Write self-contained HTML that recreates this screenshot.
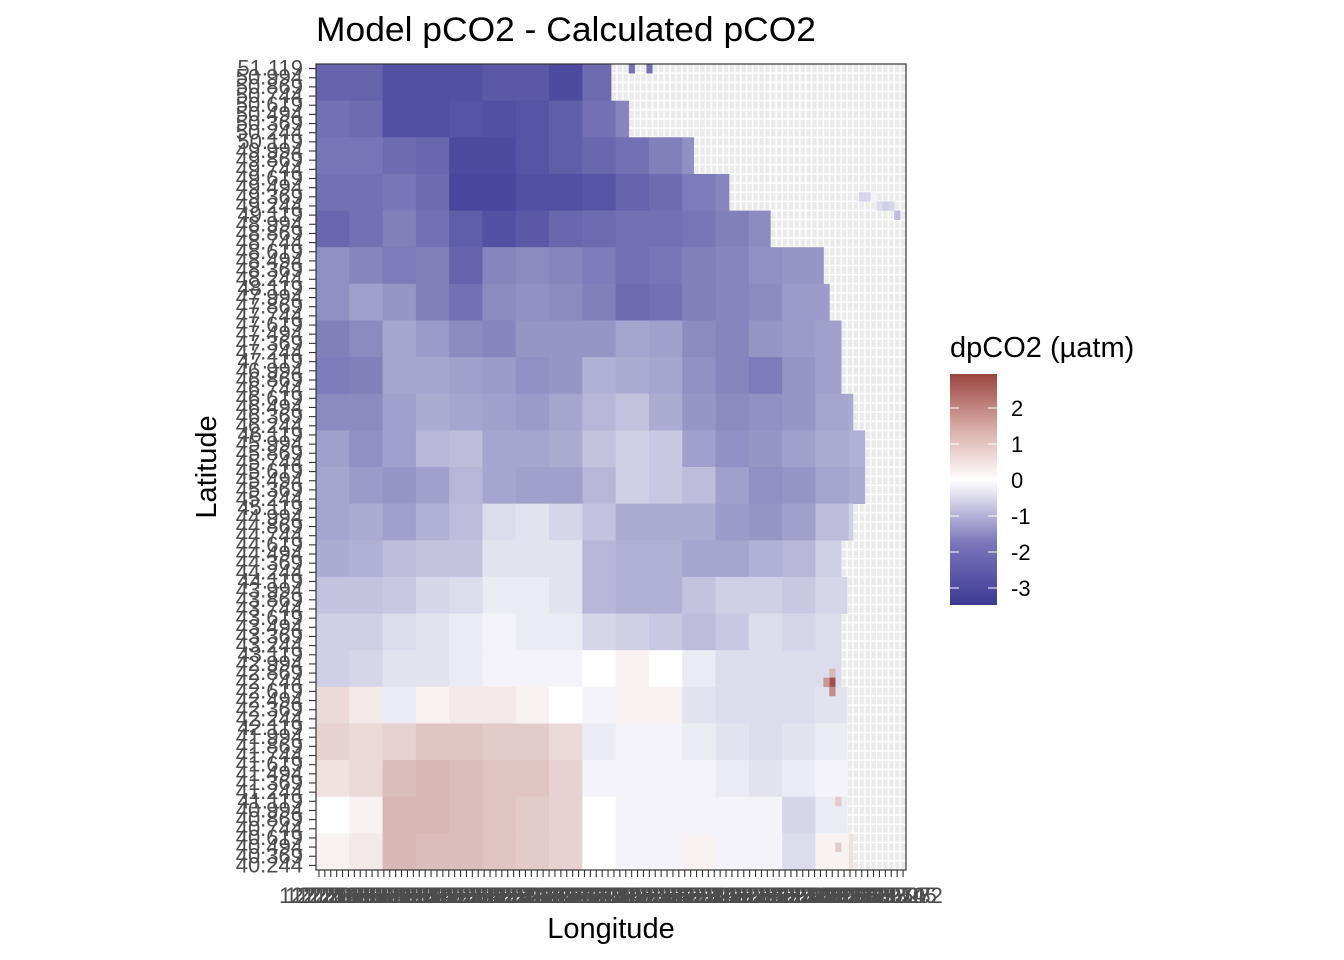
<!DOCTYPE html>
<html><head><meta charset="utf-8"><style>
html,body{margin:0;padding:0;background:#fff;}
svg{display:block;font-family:"Liberation Sans",Arial,sans-serif;}
</style></head><body>
<svg id="chart" width="1344" height="960" viewBox="0 0 1344 960">
<defs>
<pattern id="gridpat" x="316" y="64" width="5.9" height="9.159" patternUnits="userSpaceOnUse">
<rect x="0" y="0" width="5.9" height="9.159" fill="#ffffff"/>
<rect x="0.7" y="0.75" width="4.5" height="7.66" fill="#ebebeb"/>
</pattern>
<linearGradient id="legendgrad" x1="0" y1="1" x2="0" y2="0">
<stop offset="0" stop-color="#3c3a96"/>
<stop offset="0.27" stop-color="#7d76ba"/>
<stop offset="0.54" stop-color="#ffffff"/>
<stop offset="0.77" stop-color="#d7aaa5"/>
<stop offset="1" stop-color="#9a4540"/>
</linearGradient>
</defs>
<text x="316" y="41" font-size="34" textLength="500" lengthAdjust="spacingAndGlyphs" fill="#000">Model pCO2 - Calculated pCO2</text>
<rect x="316" y="64" width="590" height="806" fill="url(#gridpat)"/>
<g id="cells"></g>
<rect x="316" y="64" width="590" height="806" fill="none" stroke="#333" stroke-width="1.2"/>
<g id="yaxis"></g>
<g id="xaxis"></g>
<text x="0" y="0" transform="translate(216,467) rotate(-90)" text-anchor="middle" font-size="29" fill="#000">Latitude</text>
<text x="611" y="938" text-anchor="middle" font-size="29" fill="#000">Longitude</text>
<g>
<text x="950" y="357" font-size="29" fill="#000">dpCO2 (µatm)</text>
<rect x="950" y="374" width="47" height="231" fill="url(#legendgrad)"/>
<g id="legendticks"></g>
</g>
</svg>
<script>
// coarse grid values (dpCO2), 22 rows x 18 coarse columns
const dpRows = [
[-2.6,-2.6,-3.0,-3.0,-3.0,-2.8,-2.8,-3.1,-2.4,-2.3,-2.3,-2.3,-2.3,-2.3,-2.3,-2.3,-2.3,-2.3],
[-2.3,-2.4,-3.0,-3.0,-2.9,-3.0,-2.9,-2.7,-2.3,-1.9,-1.9,-1.9,-1.9,-1.9,-1.9,-1.9,-1.9,-1.9],
[-2.2,-2.2,-2.4,-2.5,-3.1,-3.1,-2.9,-2.7,-2.5,-2.3,-2.0,-1.7,-1.7,-1.7,-1.7,-1.7,-1.7,-1.7],
[-2.3,-2.3,-2.2,-2.4,-3.2,-3.2,-3.0,-3.0,-2.9,-2.6,-2.4,-2.1,-1.9,-1.9,-1.9,-1.9,-1.9,-1.9],
[-2.5,-2.3,-2.0,-2.3,-2.7,-3.0,-2.8,-2.5,-2.4,-2.3,-2.3,-2.2,-2.0,-1.8,-1.8,-1.8,-1.8,-1.8],
[-1.7,-1.9,-2.1,-2.0,-2.6,-1.9,-1.8,-1.9,-2.1,-2.3,-2.2,-2.0,-1.9,-1.7,-1.6,-1.6,-1.6,-1.6],
[-1.7,-1.4,-1.6,-2.0,-2.3,-1.8,-1.7,-1.8,-2.0,-2.4,-2.3,-2.0,-1.9,-1.8,-1.5,-1.5,-1.5,-1.5],
[-2.0,-1.8,-1.3,-1.5,-1.8,-1.9,-1.6,-1.6,-1.6,-1.3,-1.4,-1.8,-1.9,-1.6,-1.5,-1.4,-1.4,-1.4],
[-2.1,-2.0,-1.3,-1.3,-1.4,-1.5,-1.7,-1.6,-1.1,-1.2,-1.3,-1.7,-1.9,-2.1,-1.6,-1.4,-1.3,-1.3],
[-1.8,-1.8,-1.4,-1.2,-1.3,-1.4,-1.5,-1.3,-1.0,-0.8,-1.2,-1.6,-1.8,-1.7,-1.6,-1.3,-1.2,-1.2],
[-1.4,-1.7,-1.4,-1.0,-0.9,-1.3,-1.3,-1.2,-0.8,-0.6,-0.7,-1.4,-1.7,-1.6,-1.4,-1.2,-1.1,-1.1],
[-1.3,-1.5,-1.6,-1.4,-1.0,-1.3,-1.4,-1.4,-1.0,-0.6,-0.7,-0.9,-1.4,-1.7,-1.6,-1.3,-1.2,-1.2],
[-1.3,-1.2,-1.4,-1.1,-0.9,-0.4,-0.3,-0.5,-0.8,-1.2,-1.2,-1.2,-1.5,-1.6,-1.4,-0.9,-0.6,-0.6],
[-1.2,-1.1,-0.9,-0.8,-0.8,-0.3,-0.3,-0.3,-1.0,-1.1,-1.1,-1.3,-1.3,-1.1,-1.0,-0.6,-0.5,-0.5],
[-0.8,-0.8,-0.7,-0.5,-0.4,-0.2,-0.2,-0.3,-1.0,-1.1,-1.1,-0.8,-0.6,-0.6,-0.7,-0.5,-0.5,-0.5],
[-0.6,-0.6,-0.4,-0.3,-0.2,-0.1,-0.2,-0.2,-0.5,-0.6,-0.7,-0.9,-0.7,-0.4,-0.5,-0.4,-0.4,-0.4],
[-0.6,-0.5,-0.3,-0.3,-0.2,-0.1,-0.1,-0.1, 0.0, 0.1, 0.0,-0.2,-0.4,-0.4,-0.4,-0.4,-0.3,-0.3],
[ 0.4, 0.2,-0.2, 0.1, 0.2, 0.2, 0.1, 0.0,-0.1, 0.1, 0.1,-0.3,-0.4,-0.4,-0.4,-0.3,-0.3,-0.3],
[ 0.5, 0.4, 0.5, 0.7, 0.7, 0.6, 0.6, 0.4,-0.2,-0.1,-0.1,-0.2,-0.3,-0.4,-0.3,-0.2,-0.2,-0.2],
[ 0.3, 0.4, 0.8, 0.9, 0.8, 0.7, 0.7, 0.5,-0.1,-0.1,-0.1,-0.1,-0.2,-0.3,-0.2,-0.1,-0.1,-0.1],
[ 0.0, 0.1, 0.9, 0.9, 0.8, 0.7, 0.6, 0.5, 0.0,-0.1,-0.1,-0.1,-0.1,-0.1,-0.5,-0.2,-0.2,-0.2],
[ 0.1, 0.2, 0.9, 0.8, 0.8, 0.7, 0.6, 0.5, 0.0,-0.1,-0.1, 0.1,-0.1,-0.1,-0.4, 0.1, 0.3, 0.3]
];
// number of ocean (non-NA) longitude cells per coarse row
const coastExtent = [50,53,64,70,77,86,87,89,89,91,93,93,91,89,90,89,89,90,90,90,90,91];
// isolated single cells: longitude index, latitude row index, value
const spotLon = [53, 56, 92, 93, 94, 95, 96, 97, 98, 87, 87, 86, 87, 88, 88];
const spotLat = [0, 0, 14, 14, 14, 15, 15, 15, 16, 66, 67, 67, 68, 80, 85];
const spotVal = [-2.3, -2.3, -0.5, -0.5, -0.1, -0.4, -0.6, -0.5, -0.9, 0.9, 2.7, 1.4, 1.6, 0.6, 0.6];
const latStart = 51.119, latStep = 0.125, nLat = 88;
const lonStart = -127.27, lonStep = 0.0625, nLon = 100;
const legendBreaks = [2, 1, 0, -1, -2, -3];

const NS = "http://www.w3.org/2000/svg";
const px0 = 316, py0 = 64, pw = 590, ph = 806;
const cellW = pw / nLon, cellH = ph / nLat;
const coarseLon = nLon / 17.72, coarseLat = nLat / 22;
function xScale(i){ return px0 + i * cellW; }
function yScale(j){ return py0 + j * cellH; }
function legendY(v){ return 480 - v * 36; }
function mix(a, b, t){ return a.map((c, k) => Math.round(c + (b[k] - c) * t)); }
function color(v){
  if (v < 0){ const t = Math.pow(Math.min(1, -v / 3.47), 0.8); return "rgb(" + mix([255,255,255],[60,58,150],t).join(",") + ")"; }
  const t = Math.pow(Math.min(1, v / 2.94), 0.8); return "rgb(" + mix([255,255,255],[154,69,64],t).join(",") + ")";
}
const cells = document.getElementById("cells");
dpRows.forEach((row, r) => {
  const j0 = r * coarseLat, j1 = (r + 1) * coarseLat;
  row.forEach((v, c) => {
    const i0 = c * coarseLon;
    const i1 = Math.min((c + 1) * coarseLon, coastExtent[r]);
    if (i1 <= i0) return;
    const el = document.createElementNS(NS, "rect");
    el.setAttribute("x", xScale(i0)); el.setAttribute("y", yScale(j0));
    el.setAttribute("width", xScale(i1) - xScale(i0) + 0.4);
    el.setAttribute("height", yScale(j1) - yScale(j0) + 0.4);
    el.setAttribute("fill", color(v));
    
    
    cells.appendChild(el);
  });
});
spotLon.forEach((li, k) => {
  const el = document.createElementNS(NS, "rect");
  el.setAttribute("x", xScale(li)); el.setAttribute("y", yScale(spotLat[k]));
  el.setAttribute("width", cellW + 0.3); el.setAttribute("height", cellH + 0.3);
  el.setAttribute("fill", color(spotVal[k]));
  
  
  cells.appendChild(el);
});
const yaxis = document.getElementById("yaxis");
for (let j = 0; j < nLat; j++){
  const y = yScale(j + 0.5);
  const t = document.createElementNS(NS, "text");
  t.setAttribute("x", 303); t.setAttribute("y", y + 7);
  t.setAttribute("text-anchor", "end"); t.setAttribute("font-size", "22"); t.setAttribute("fill", "#4d4d4d");
  t.textContent = (latStart - j * latStep).toFixed(3);
  
  
  yaxis.appendChild(t);
  const l = document.createElementNS(NS, "line");
  l.setAttribute("x1", 309); l.setAttribute("x2", 316); l.setAttribute("y1", y); l.setAttribute("y2", y);
  l.setAttribute("stroke", "#333"); l.setAttribute("stroke-width", "1.1");
  
  
  yaxis.appendChild(l);
}
const xaxis = document.getElementById("xaxis");
for (let i = 0; i < nLon; i++){
  const x = xScale(i + 0.5);
  const l = document.createElementNS(NS, "line");
  l.setAttribute("x1", x); l.setAttribute("x2", x); l.setAttribute("y1", 870); l.setAttribute("y2", 877);
  l.setAttribute("stroke", "#333"); l.setAttribute("stroke-width", "1.1");
  
  
  xaxis.appendChild(l);
  const t = document.createElementNS(NS, "text");
  t.setAttribute("x", x); t.setAttribute("y", 903);
  t.setAttribute("text-anchor", "middle"); t.setAttribute("font-size", "22"); t.setAttribute("fill", "#4d4d4d");
  t.textContent = Math.abs(lonStart + i * lonStep).toFixed(3);
  
  
  xaxis.appendChild(t);
}
const lt = document.getElementById("legendticks");
legendBreaks.forEach(v => {
  const y = legendY(v);
  [[950, 959], [988, 997]].forEach(([a, b]) => {
    const l = document.createElementNS(NS, "line");
    l.setAttribute("x1", a); l.setAttribute("x2", b); l.setAttribute("y1", y); l.setAttribute("y2", y);
    l.setAttribute("stroke", "#fff"); l.setAttribute("stroke-width", "1");
    
    
    lt.appendChild(l);
  });
  const t = document.createElementNS(NS, "text");
  t.setAttribute("x", 1011); t.setAttribute("y", y + 8);
  t.setAttribute("font-size", "22"); t.setAttribute("fill", "#000");
  t.textContent = String(v);
  
  
  lt.appendChild(t);
});
</script>
</body></html>
